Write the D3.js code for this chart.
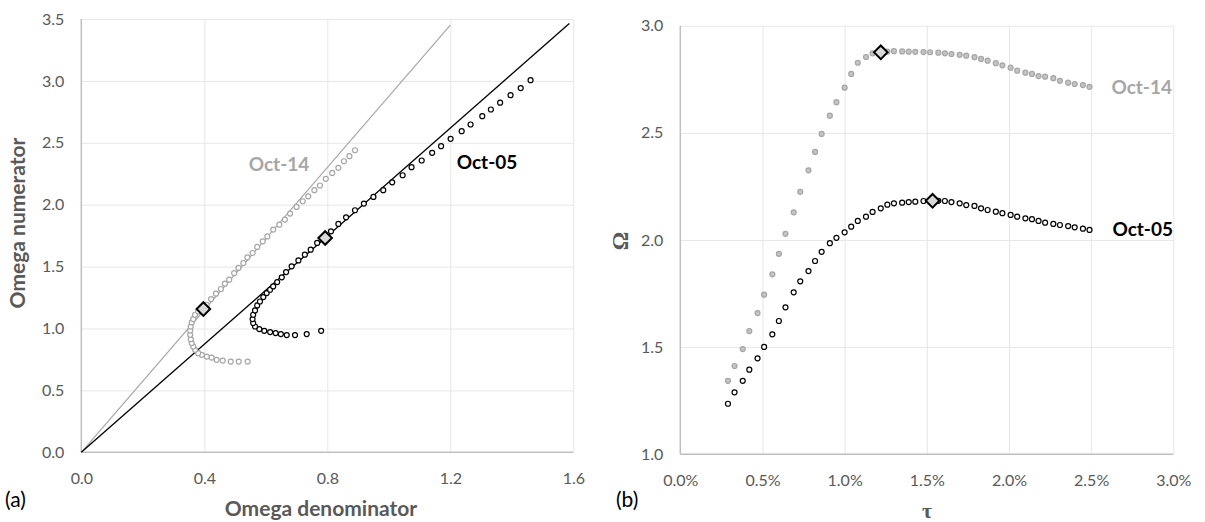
<!DOCTYPE html>
<html>
<head>
<meta charset="utf-8">
<script src="https://cdn.jsdelivr.net/npm/d3@7/dist/d3.min.js"></script>
<style>
  body { margin: 0; background: #fff; }
  text { font-family: Lato, "Open Sans", sans-serif; }
</style>
</head>
<body>
<div id="chart"></div>
<script>
// ---- data ----
// panel (a): Omega denominator / numerator pairs, Oct-14 and Oct-05
const den14 = [0.541,0.512,0.486,0.460,0.440,0.424,0.408,0.392,0.380,0.370,0.364,0.359,0.356,0.354,0.354,0.356,0.359,0.364,0.370,0.380,0.397,0.408,0.422,0.438,0.454,0.467,0.481,0.497,0.511,0.527,0.540,0.557,0.572,0.590,0.605,0.624,0.644,0.662,0.679,0.700,0.720,0.738,0.758,0.776,0.795,0.816,0.836,0.854,0.872,0.890];
const num14 = [0.733,0.733,0.733,0.741,0.747,0.765,0.773,0.787,0.801,0.828,0.854,0.882,0.914,0.949,0.984,1.016,1.049,1.076,1.111,1.138,1.157,1.192,1.238,1.281,1.319,1.362,1.394,1.448,1.489,1.529,1.574,1.610,1.659,1.704,1.744,1.799,1.839,1.880,1.928,1.982,2.028,2.068,2.117,2.155,2.209,2.257,2.298,2.351,2.392,2.440];
const den05 = [0.780,0.733,0.695,0.668,0.649,0.632,0.614,0.595,0.579,0.565,0.559,0.557,0.559,0.565,0.572,0.581,0.592,0.603,0.614,0.624,0.637,0.652,0.666,0.684,0.706,0.727,0.746,0.767,0.793,0.812,0.836,0.861,0.890,0.919,0.950,0.982,1.011,1.045,1.074,1.107,1.141,1.170,1.201,1.237,1.266,1.304,1.332,1.362,1.396,1.429,1.461];
const num05 = [0.981,0.955,0.947,0.947,0.955,0.963,0.971,0.981,0.995,1.016,1.044,1.076,1.111,1.146,1.186,1.218,1.254,1.286,1.313,1.340,1.375,1.413,1.456,1.502,1.550,1.596,1.637,1.691,1.731,1.785,1.845,1.898,1.955,2.009,2.063,2.117,2.181,2.238,2.303,2.357,2.419,2.473,2.532,2.594,2.648,2.715,2.769,2.824,2.885,2.942,3.006];
// rays through the origin (slope = max Omega)
const ray14 = [[0, 0], [1.2, 3.45]];
const ray05 = [[0, 0], [1.587, 3.463]];
// highlighted points (max Omega)
const peakA14 = [0.397, 1.157];
const peakA05 = [0.793, 1.731];

// panel (b): Omega against tau (tau in %)
const tau = [0.29,0.33,0.38,0.42,0.47,0.51,0.56,0.60,0.64,0.69,0.73,0.78,0.82,0.86,0.91,0.95,1.00,1.04,1.08,1.13,1.17,1.22,1.26,1.30,1.35,1.39,1.43,1.48,1.52,1.57,1.61,1.65,1.70,1.74,1.79,1.83,1.87,1.92,1.96,2.01,2.05,2.10,2.14,2.18,2.22,2.27,2.31,2.36,2.40,2.45,2.49];
const omega14 = [1.343,1.412,1.491,1.575,1.659,1.745,1.840,1.935,2.029,2.129,2.225,2.325,2.411,2.495,2.580,2.643,2.711,2.775,2.827,2.854,2.871,2.876,2.879,2.881,2.880,2.879,2.878,2.877,2.876,2.874,2.871,2.868,2.864,2.860,2.853,2.845,2.837,2.825,2.815,2.804,2.790,2.781,2.775,2.765,2.762,2.755,2.743,2.734,2.728,2.723,2.715];
const omega05 = [1.236,1.289,1.343,1.395,1.448,1.501,1.560,1.622,1.686,1.756,1.807,1.855,1.902,1.945,1.985,2.010,2.036,2.062,2.089,2.109,2.131,2.148,2.165,2.171,2.174,2.177,2.179,2.182,2.183,2.183,2.182,2.177,2.171,2.163,2.159,2.148,2.140,2.132,2.125,2.117,2.109,2.101,2.097,2.089,2.081,2.075,2.070,2.065,2.059,2.053,2.047];
const peakB14 = [1.22, 2.876];
const peakB05 = [1.535, 2.183];

// tick values
const xTicksA = [0, 0.4, 0.8, 1.2, 1.6];
const yTicksA = [0, 0.5, 1.0, 1.5, 2.0, 2.5, 3.0, 3.5];
const xTicksB = [0, 0.5, 1.0, 1.5, 2.0, 2.5, 3.0];
const yTicksB = [1.0, 1.5, 2.0, 2.5, 3.0];

const GRAY = "#a6a6a6";
const LABEL = "#595959";

const svg = d3.select("#chart")
    .append("svg")
    .attr("width", 1205)
    .attr("height", 522);

// scales
const xA = d3.scaleLinear().domain([0, 1.6]).range([81.3, 573.3]);
const yA = d3.scaleLinear().domain([0, 3.5]).range([452.3, 19]);
const xB = d3.scaleLinear().domain([0, 3]).range([680.3, 1173.3]);
const yB = d3.scaleLinear().domain([1, 3]).range([454.3, 25.7]);

function frame(x, y, xTicks, yTicks, xFmt, yFmt) {
  const [x0, x1] = x.range();
  const [y0, y1] = y.range();

  // gridlines
  svg.append("g")
      .attr("transform", `translate(0,${y0})`)
      .call(d3.axisBottom(x).tickValues(xTicks.slice(1)).tickSize(-(y0 - y1)).tickFormat(""))
      .call(g => g.select(".domain").remove())
      .selectAll("line").attr("stroke", "#e7e7e7");
  svg.append("g")
      .attr("transform", `translate(${x0},0)`)
      .call(d3.axisLeft(y).tickValues(yTicks.slice(1)).tickSize(-(x1 - x0)).tickFormat(""))
      .call(g => g.select(".domain").remove())
      .selectAll("line").attr("stroke", "#e7e7e7");

  // axis lines
  svg.append("line").attr("x1", x0).attr("x2", x1).attr("y1", y0).attr("y2", y0)
      .attr("stroke", "#bfbfbf").attr("stroke-width", 1.5);
  svg.append("line").attr("x1", x0).attr("x2", x0).attr("y1", y0).attr("y2", y1)
      .attr("stroke", "#bfbfbf").attr("stroke-width", 1.5);

  // tick labels
  const xa = svg.append("g")
      .attr("transform", `translate(0,${y0})`)
      .call(d3.axisBottom(x).tickValues(xTicks).tickSize(0).tickPadding(20).tickFormat(xFmt));
  const ya = svg.append("g")
      .attr("transform", `translate(${x0},0)`)
      .call(d3.axisLeft(y).tickValues(yTicks).tickSize(0).tickPadding(17).tickFormat(yFmt));
  [xa, ya].forEach(g => {
    g.select(".domain").remove();
    g.attr("font-family", null).attr("font-size", null);
    g.selectAll("text").attr("fill", LABEL).style("font-size", "16px");
  });
}

function dots(x, y, xs, ys, fill, stroke) {
  svg.append("g")
    .selectAll("circle")
    .data(xs.map((d, i) => [d, ys[i]]))
    .enter()
    .append("circle")
      .attr("cx", d => x(d[0]))
      .attr("cy", d => y(d[1]))
      .attr("r", 2.5)
      .attr("fill", fill)
      .attr("stroke", stroke)
      .attr("stroke-width", 1.2);
}

function diamond(x, y, p) {
  svg.append("path")
      .attr("d", d3.symbol(d3.symbolSquare, 92)())
      .attr("transform", `translate(${x(p[0])},${y(p[1])}) rotate(45)`)
      .attr("fill", "#d9d9d9")
      .attr("stroke", "#000")
      .attr("stroke-width", 2);
}

const fmt1 = d3.format(".1f");

// ---- panel (a) ----
frame(xA, yA, xTicksA, yTicksA, fmt1, fmt1);

const line = d3.line().x(d => xA(d[0])).y(d => yA(d[1]));
svg.append("path").attr("d", line(ray14)).attr("fill", "none")
    .attr("stroke", GRAY).attr("stroke-width", 1.2);
svg.append("path").attr("d", line(ray05)).attr("fill", "none")
    .attr("stroke", "#000").attr("stroke-width", 1.3);

dots(xA, yA, den14, num14, "#fff", GRAY);
dots(xA, yA, den05, num05, "#fff", "#000");
diamond(xA, yA, peakA14);
diamond(xA, yA, peakA05);

svg.append("text").attr("x", 279).attr("y", 171).attr("text-anchor", "middle")
    .attr("font-weight", "bold").attr("font-size", 19).attr("fill", GRAY).text("Oct-14");
svg.append("text").attr("x", 487).attr("y", 169).attr("text-anchor", "middle")
    .attr("font-weight", "bold").attr("font-size", 19).attr("fill", "#000").text("Oct-05");

svg.append("text")
    .attr("transform", "translate(25,223) rotate(-90)")
    .attr("text-anchor", "middle").attr("font-weight", "bold").attr("font-size", 21)
    .attr("fill", LABEL).text("Omega numerator");
svg.append("text").attr("x", 321).attr("y", 516).attr("text-anchor", "middle")
    .attr("font-weight", "bold").attr("font-size", 21).attr("fill", LABEL)
    .text("Omega denominator");
svg.append("text").attr("x", 5).attr("y", 507).attr("font-size", 21).attr("fill", "#000").text("(a)");

// ---- panel (b) ----
frame(xB, yB, xTicksB, yTicksB, d => d.toFixed(1) + "%", fmt1);

dots(xB, yB, tau, omega14, "#c4c4c4", GRAY);
dots(xB, yB, tau, omega05, "#fff", "#000");
diamond(xB, yB, peakB14);
diamond(xB, yB, peakB05);

svg.append("text").attr("x", 1172).attr("y", 94).attr("text-anchor", "end")
    .attr("font-weight", "bold").attr("font-size", 19).attr("fill", GRAY).text("Oct-14");
svg.append("text").attr("x", 1173).attr("y", 236).attr("text-anchor", "end")
    .attr("font-weight", "bold").attr("font-size", 19).attr("fill", "#000").text("Oct-05");

svg.append("text")
    .attr("transform", "translate(628,241) rotate(-90)")
    .attr("text-anchor", "middle").attr("font-weight", "bold").attr("font-size", 23)
    .style("font-family", "'Liberation Serif', serif")
    .attr("fill", LABEL).text("Ω");
svg.append("text").attr("x", 927).attr("y", 518).attr("text-anchor", "middle")
    .attr("font-weight", "bold").attr("font-size", 22)
    .style("font-family", "'Liberation Serif', serif")
    .attr("fill", LABEL).text("τ");
svg.append("text").attr("x", 616).attr("y", 507).attr("font-size", 21).attr("fill", "#000").text("(b)");
</script>
</body>
</html>
